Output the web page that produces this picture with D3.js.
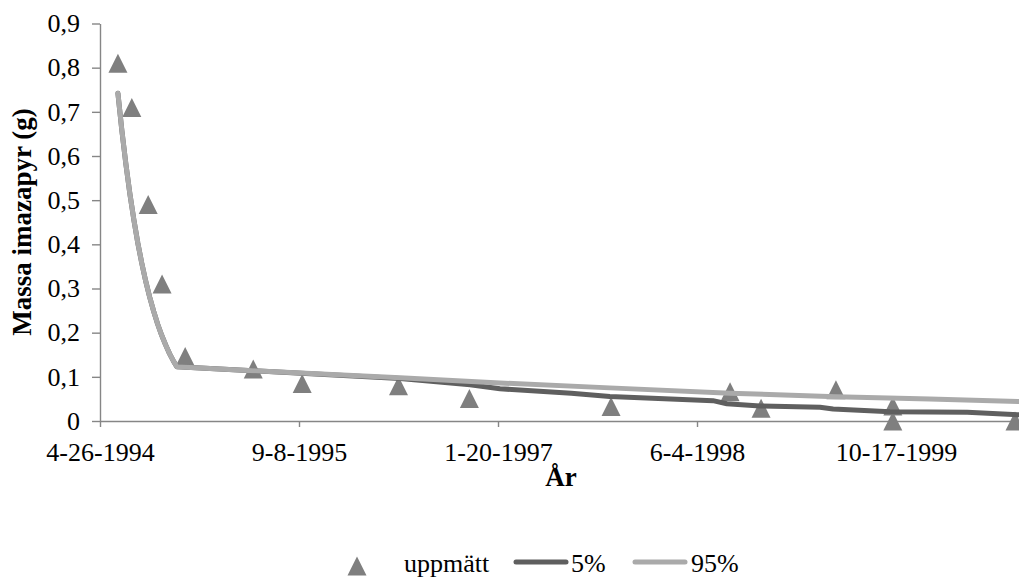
<!DOCTYPE html>
<html><head><meta charset="utf-8">
<script src="https://cdn.jsdelivr.net/npm/d3@7"></script>
<style>body{margin:0;background:#fff;overflow:hidden} svg{display:block}</style>
</head><body>
<svg id="chart" width="1019" height="577"></svg>
<script>
// ---- data ----
const measuredDates = ["1994-06-10","1994-07-15","1994-08-25","1994-09-29","1994-11-26","1995-05-16","1995-09-16","1996-05-15","1996-11-09","1997-10-31","1998-08-26","1998-11-12","1999-05-19","1999-10-09","1999-10-09","2000-08-11"];
const measuredValues = [0.81,0.71,0.49,0.31,0.146,0.118,0.085,0.080,0.051,0.033,0.066,0.029,0.071,0.034,0.0,0.0];

// shared initial decay of both model lines
const decayDates = ["1994-06-10","1994-06-20","1994-06-30","1994-07-10","1994-07-20","1994-07-30","1994-08-09","1994-08-19","1994-08-29","1994-09-08","1994-09-18","1994-09-28","1994-10-08","1994-10-18","1994-10-28","1994-11-05"];
const decayValues = [0.742,0.657,0.582,0.515,0.456,0.403,0.357,0.316,0.280,0.248,0.219,0.194,0.172,0.152,0.135,0.123];

const p5Dates = ["1995-05-15","1996-05-19","1996-11-11","1997-01-25","1997-07-23","1997-10-28","1998-07-14","1998-08-18","1998-11-09","1999-04-09","1999-05-12","1999-10-02","2000-04-13","2000-08-21"];
const p5Values = [0.114,0.096,0.082,0.073,0.063,0.0555,0.046,0.039,0.034,0.031,0.027,0.021,0.020,0.014];

const p95Dates = ["1995-05-15","1996-05-19","1997-01-25","1997-10-28","1998-08-26","1999-05-19","2000-01-10","2000-08-21"];
const p95Values = [0.114,0.098,0.086,0.075,0.063,0.055,0.050,0.044];

const xTickDates = ["1994-04-26","1995-09-08","1997-01-20","1998-06-04","1999-10-17"];
const xDomain = ["1994-04-26","2000-08-21"];
const yTicks = [0,0.1,0.2,0.3,0.4,0.5,0.6,0.7,0.8,0.9];
const seriesNames = ["uppmätt","5%","95%"];
const xTitle = "År";
const yTitle = "Massa imazapyr (g)";

// ---- drawing ----
const parse = d3.utcParse("%Y-%m-%d");
const svg = d3.select("#chart");
const FONT = "'Liberation Serif','Times New Roman',serif";
const AXIS = "#868686";
const C_MEAS = "#7f7f7f", C_P5 = "#5f5f5f", C_P95 = "#aaaaaa";

const x = d3.scaleUtc().domain(xDomain.map(parse)).range([100, 1019]);
const y = d3.scaleLinear().domain([0, 0.9]).range([421, 23.5]);

const fmtY = d => d === 0 ? "0" : d3.format(".1f")(d).replace(".", ",");

const gy = svg.append("g").attr("transform", "translate(100,0)")
  .call(d3.axisLeft(y).tickValues(yTicks).tickSize(8).tickSizeOuter(0).tickPadding(12).tickFormat(fmtY));
const gx = svg.append("g").attr("transform", "translate(0,421)")
  .call(d3.axisBottom(x).tickValues(xTickDates.map(parse)).tickSize(6).tickSizeOuter(0).tickPadding(16)
    .tickFormat(d3.utcFormat("%-m-%-d-%Y")));
[gx, gy].forEach(g => {
  g.selectAll("path,line").attr("stroke", AXIS).attr("stroke-width", 1.4);
  g.selectAll("text").style("font-family", FONT).attr("font-size", 26).attr("fill", "#000");
});

// measured triangles
const tri = "M0,-9.5L9.5,9.5L-9.5,9.5Z";
svg.append("g").selectAll("path").data(measuredDates.map((d, i) => ({d: parse(d), v: measuredValues[i]})))
  .join("path").attr("d", tri).attr("fill", C_MEAS)
  .attr("transform", p => `translate(${x(p.d)},${y(p.v)})`);

const line = d3.line().x(p => x(p.d)).y(p => y(p.v));
const mk = (ds, vs) => ds.map((d, i) => ({d: parse(d), v: vs[i]}));
const p5 = mk(decayDates, decayValues).concat(mk(p5Dates, p5Values));
const p95 = mk(decayDates, decayValues).concat(mk(p95Dates, p95Values));

svg.append("path").datum(p5).attr("d", line).attr("fill", "none").attr("stroke", C_P5)
  .attr("stroke-width", 5).attr("stroke-linecap", "round").attr("stroke-linejoin", "round");
svg.append("path").datum(p95).attr("d", line).attr("fill", "none").attr("stroke", C_P95)
  .attr("stroke-width", 5).attr("stroke-linecap", "round").attr("stroke-linejoin", "round");

// axis titles
svg.append("text").attr("x", 561).attr("y", 486).attr("text-anchor", "middle")
  .style("font-family", FONT).attr("font-size", 27).attr("font-weight", "bold").text(xTitle);
svg.append("text").attr("transform", "translate(31,222) rotate(-90)").attr("text-anchor", "middle")
  .style("font-family", FONT).attr("font-size", 27).attr("font-weight", "bold").text(yTitle);

// legend
const lg = svg.append("g");
lg.append("path").attr("d", tri).attr("fill", C_MEAS).attr("transform", "translate(357,566)");
lg.append("text").attr("x", 404).attr("y", 572).style("font-family", FONT).attr("font-size", 26).text(seriesNames[0]);
lg.append("line").attr("x1", 516).attr("x2", 566).attr("y1", 562).attr("y2", 562)
  .attr("stroke", C_P5).attr("stroke-width", 5).attr("stroke-linecap", "round");
lg.append("text").attr("x", 571).attr("y", 572).style("font-family", FONT).attr("font-size", 26).text(seriesNames[1]);
lg.append("line").attr("x1", 635).attr("x2", 685).attr("y1", 562).attr("y2", 562)
  .attr("stroke", C_P95).attr("stroke-width", 5).attr("stroke-linecap", "round");
lg.append("text").attr("x", 691).attr("y", 572).style("font-family", FONT).attr("font-size", 26).text(seriesNames[2]);
</script>
</body></html>
